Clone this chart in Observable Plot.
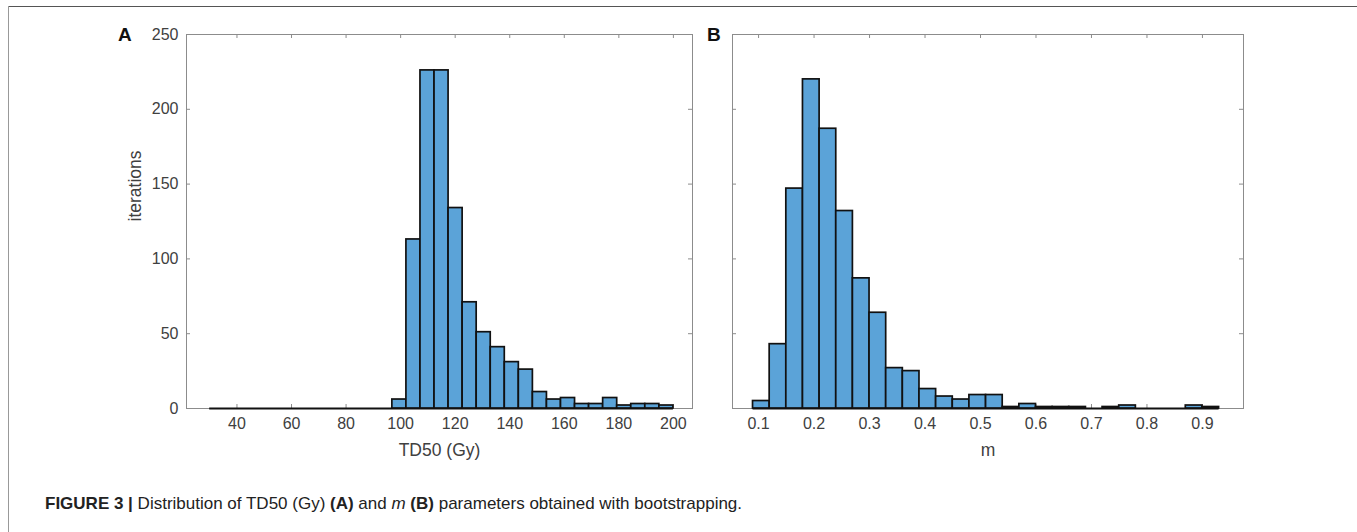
<!DOCTYPE html>
<html>
<head>
<meta charset="utf-8">
<script src="https://cdn.jsdelivr.net/npm/d3@7"></script>
<script src="https://cdn.jsdelivr.net/npm/@observablehq/plot@0.6"></script>
<style>
  body { margin: 0; background: #fff; font-family: "Liberation Sans", Arial, sans-serif; }
  #wrap { position: relative; width: 1357px; height: 532px; overflow: hidden; background: #fff; }
  .abs { position: absolute; }
  .plab { position: absolute; font-weight: bold; font-size: 19px; color: #111; line-height: 1; }
  #caption { position: absolute; left: 45px; top: 494px; font-size: 17px; line-height: 20px; color: #222; white-space: nowrap; }
</style>
</head>
<body>
<div id="wrap">
  <div class="abs" style="left:8px;top:6px;width:1349px;height:1px;background:#555"></div>
  <div class="abs" style="left:8px;top:6px;width:1px;height:526px;background:#999"></div>
  <div id="pa" class="abs" style="left:0;top:0"></div>
  <div id="pb" class="abs" style="left:700px;top:0"></div>
  <div class="plab" style="left:118px;top:25px">A</div>
  <div class="plab" style="left:707px;top:25px">B</div>
  <div id="caption"><b>FIGURE 3 |</b> Distribution of TD50 (Gy) <b>(A)</b> and <i>m</i> <b>(B)</b> parameters obtained with bootstrapping.</div>
</div>
<script>
// ---- Data ----
// Panel A: TD50 (Gy) histogram, 33 equal bins between the bin limits
const tdBinLimits = [30, 200];
const tdCounts = [0,0,0,0,0,0,0,0,0,0,0,0,0,
                  6,113,226,226,134,71,51,41,31,26,11,6,7,3,3,7,2,3,3,2];
const tdTicks = [40, 60, 80, 100, 120, 140, 160, 180, 200];
const tdXDomain = [21.5, 207];

// Panel B: m histogram, 28 equal bins between the bin limits
const mBinLimits = [0.09, 0.93];
const mCounts = [5,43,147,220,187,132,87,64,27,25,13,8,6,9,9,1,3,1,1,1,0,1,2,0,0,0,2,1];
const mTicks = [0.1, 0.2, 0.3, 0.4, 0.5, 0.6, 0.7, 0.8, 0.9];
const mXDomain = [0.053, 0.974];

const yTicks = [0, 50, 100, 150, 200, 250];
const yDomain = [0, 250];

const xLabelA = "TD50 (Gy)";
const xLabelB = "m";
const yLabel = "iterations";

// ---- Drawing ----
const FONT = "'Liberation Sans', Arial, Helvetica, sans-serif";
const AX = "#8c8c8c";
const TXT = "#404040";
const FILL = "#5ba3d8";
const H = 480, MT = 34, MB = 72;
const plotH = H - MT - MB;

function binsOf(limits, counts) {
  const [lo, hi] = limits, n = counts.length, w = (hi - lo) / n;
  return counts.map((c, i) => ({x1: lo + i * w, x2: lo + (i + 1) * w, y: c}));
}

function panel({limits, counts, xDomain, xTicks, width, marginLeft, marginRight, xLabel, showYLabels}) {
  const data = binsOf(limits, counts);
  const plotW = width - marginLeft - marginRight;
  const marks = [
    Plot.frame({stroke: AX, strokeWidth: 1}),
    Plot.ruleX(xTicks, {insetTop: plotH - 4, stroke: AX}),
    Plot.ruleX(xTicks, {insetBottom: plotH - 4, stroke: AX}),
    Plot.ruleY(yTicks, {insetRight: plotW - 4, stroke: AX}),
    Plot.ruleY(yTicks, {insetLeft: plotW - 4, stroke: AX}),
    Plot.ruleY([{y: 0, x1: limits[0], x2: limits[1]}], {y: "y", x1: "x1", x2: "x2", stroke: "#111", strokeWidth: 1.8}),
    Plot.rectY(data, {x1: "x1", x2: "x2", y: "y", fill: FILL, stroke: "#111", strokeWidth: 1.7}),
    Plot.axisX(xTicks, {tickSize: 0, tickPadding: 9, fontSize: 16, fill: TXT, label: null}),
    Plot.text([xLabel], {frameAnchor: "bottom", dy: 47, fontSize: 17.5, fill: TXT})
  ];
  if (showYLabels) {
    marks.push(Plot.axisY(yTicks, {tickSize: 0, tickPadding: 8, fontSize: 16, fill: TXT, label: null}));
    marks.push(Plot.text([yLabel], {frameAnchor: "left", dx: -51, rotate: -90, fontSize: 17.5, fill: TXT}));
  } else {
    marks.push(Plot.axisY(yTicks, {tickSize: 0, tickFormat: () => "", label: null}));
  }
  return Plot.plot({
    width, height: H, marginLeft, marginRight, marginTop: MT, marginBottom: MB,
    style: {fontFamily: FONT, fontSize: "16px", background: "transparent", overflow: "visible"},
    x: {domain: xDomain},
    y: {domain: yDomain},
    marks
  });
}

document.getElementById("pa").appendChild(panel({
  limits: tdBinLimits, counts: tdCounts, xDomain: tdXDomain, xTicks: tdTicks,
  width: 710, marginLeft: 186, marginRight: 18, xLabel: xLabelA, showYLabels: true
}));
document.getElementById("pb").appendChild(panel({
  limits: mBinLimits, counts: mCounts, xDomain: mXDomain, xTicks: mTicks,
  width: 657, marginLeft: 32, marginRight: 114, xLabel: xLabelB, showYLabels: false
}));
</script>
</body>
</html>
